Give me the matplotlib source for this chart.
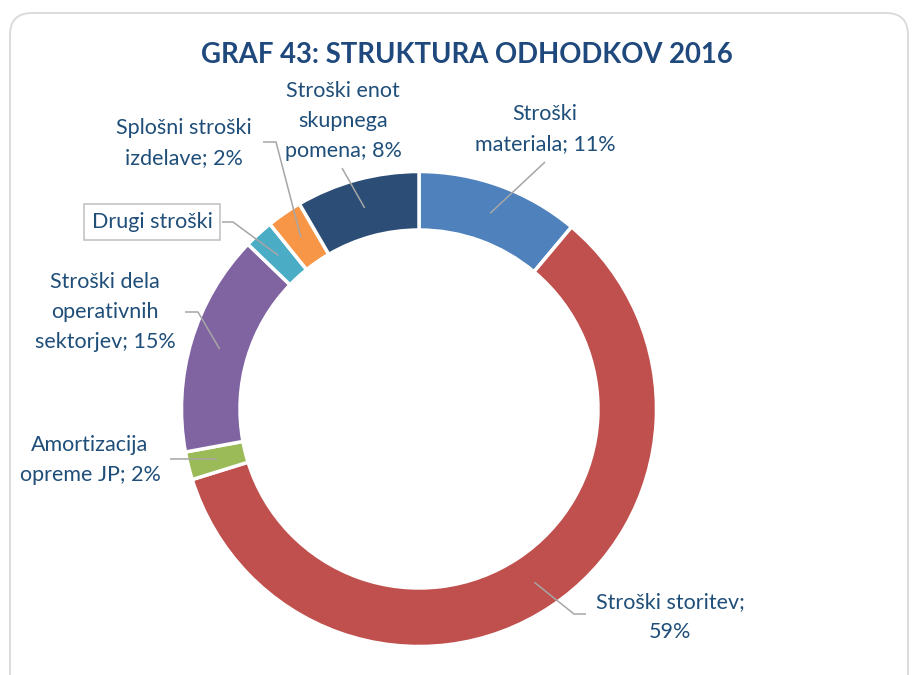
import matplotlib
matplotlib.use("Agg")
import matplotlib.pyplot as plt
from matplotlib.patches import FancyBboxPatch
import numpy as np

# cost structure 2016 (share of total, %)
categories = ["Stroški materiala", "Stroški storitev", "Amortizacija opreme JP",
              "Stroški dela operativnih sektorjev", "Drugi stroški",
              "Splošni stroški izdelave", "Stroški enot skupnega pomena"]
shares = [11.1, 59.1, 1.9, 15.1, 2.0, 2.4, 8.4]
colors = ["#4F81BD", "#C0504D", "#9BBB59", "#8064A2", "#4BACC6", "#F79646", "#2C4D75"]

# label text per slice; "{p}" is filled from the share
label_fmt = ["Stroški\nmateriala; {p}%",
             "Stroški storitev;\n{p}%",
             "Amortizacija\nopreme JP; {p}%",
             "Stroški dela\noperativnih\nsektorjev; {p}%",
             "Drugi stroški",
             "Splošni stroški\nizdelave; {p}%",
             "Stroški enot\nskupnega\npomena; {p}%"]

# label placement (pixels from top-left) and leader line bends
label_pos = [(545, 129), (670, 617), (90, 460), (105, 312), (152, 222),
             (184, 143), (343, 121)]
leader_bends = [[(545, 162)],
                [(574, 614), (586, 614)],
                [(170, 459)],
                [(198, 312), (185, 312)],
                [(233, 222), (222, 222)],
                [(276, 142), (263, 142)],
                [(342, 168)]]

W, H = 915, 675
cx, cy = 419, 409
r_out, ring = 237.5, 58.5

text_col = "#1F4E79"
plt.rcParams['font.family'] = ['Lato', 'DejaVu Sans']

fig = plt.figure(figsize=(W / 100, H / 100), dpi=100)
ax = fig.add_axes([0, 0, 1, 1])

# y axis runs downward, so counterclock=True turns clockwise on screen
wedges, _ = ax.pie(shares, colors=colors, startangle=-90, counterclock=True,
                   radius=r_out, center=(cx, cy),
                   wedgeprops=dict(width=ring, edgecolor="white", linewidth=2.5))
ax.set_xlim(0, W)
ax.set_ylim(H, 0)
ax.set_aspect("equal")
ax.axis("off")

# frame around the chart
frame = FancyBboxPatch((10, 13), 898, 720, boxstyle="round,pad=0,rounding_size=22",
                       fc="none", ec="#D9D9D9", lw=1.3, zorder=0)
ax.add_patch(frame)

ax.text(467, 55, "GRAF 43: STRUKTURA ODHODKOV 2016", ha="center", va="center",
        fontsize=19.8, fontweight="bold", color="#1F497D")

r_mid = r_out - ring / 2
for i, w in enumerate(wedges):
    mid = np.deg2rad((w.theta1 + w.theta2) / 2)
    sx = cx + r_mid * np.cos(mid)
    sy = cy + r_mid * np.sin(mid)
    pts = [(sx, sy)] + leader_bends[i]
    ax.plot([p[0] for p in pts], [p[1] for p in pts], color="#A6A6A6", lw=1.1,
            solid_capstyle="butt", zorder=3)

    txt = label_fmt[i].format(p=round(shares[i]))
    kw = {}
    if "{p}" not in label_fmt[i]:
        kw["bbox"] = dict(boxstyle="square,pad=0.35", fc="white", ec="#BFBFBF", lw=1.1)
    ax.text(label_pos[i][0], label_pos[i][1], txt, ha="center", va="center",
            fontsize=15.5, color=text_col, linespacing=1.6, multialignment="center",
            zorder=4, **kw)

fig.savefig("out.png", dpi=100)
